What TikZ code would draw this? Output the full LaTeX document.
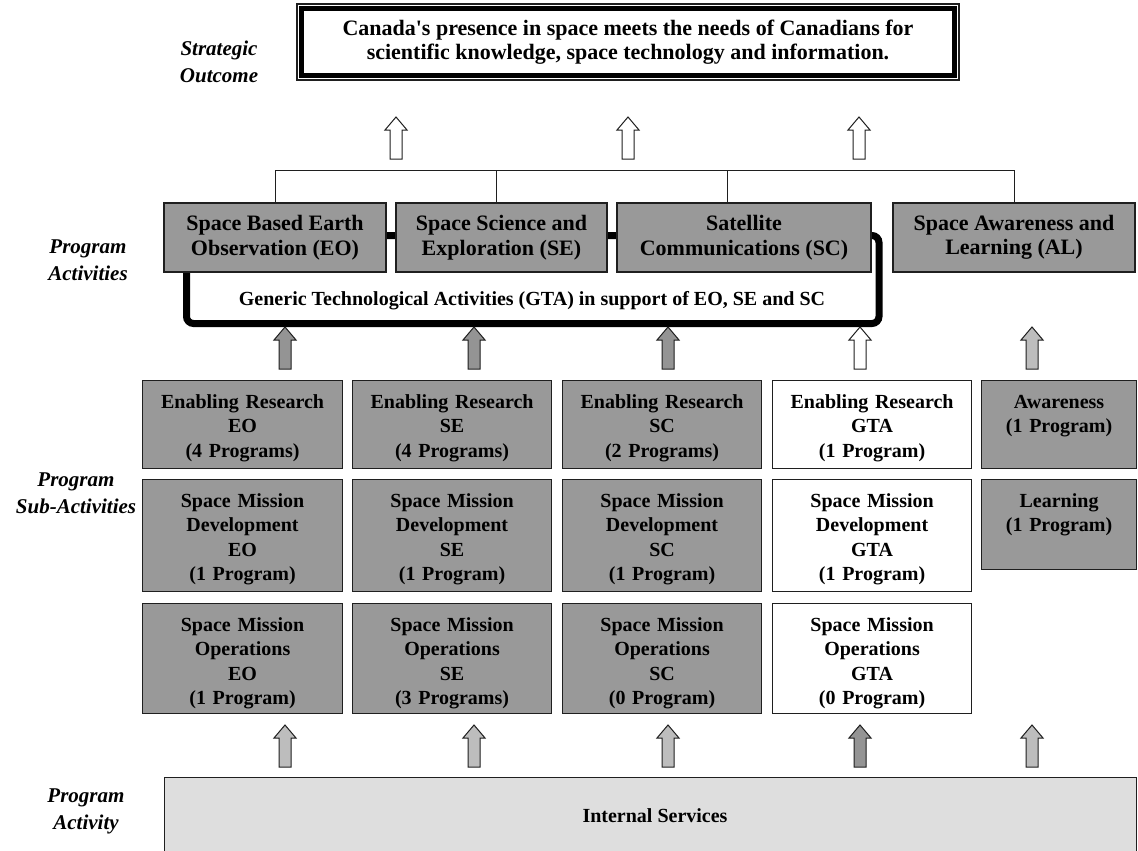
\documentclass[tikz,border=0pt]{standalone}
\usepackage{fontspec}
\setmainfont{Liberation Serif}
\usetikzlibrary{calc}

\definecolor{boxgray}{gray}{0.60}
\definecolor{arrowdark}{gray}{0.58}
\definecolor{arrowlight}{gray}{0.74}
\definecolor{basegray}{gray}{0.87}
\definecolor{edgecol}{gray}{0.12}

% one cell of the sub-activity grid: name, style, left, top, width, height, text
\newcommand{\subcell}[7]{%
  \node[#2, minimum width=#5, minimum height=#6] (#1) at (#3,#4) {};
  \node[celltext] (#1-t) at ($(#1.north)+(0,28)$) {#7};
}

\tikzset{
  pics/blockarrow/.style={code={
    \path[pic actions] (-6,0) -- (-6,-29) -- (-11,-29) -- (0,-42)
      -- (11,-29) -- (6,-29) -- (6,0) -- cycle;}},
}

\begin{document}
\begin{tikzpicture}[x=1pt,y=-1pt,
  every node/.style={font=\fontsize{20}{24.5}\selectfont\bfseries},
  big/.style={font=\fontsize{22}{24.5}\selectfont\bfseries},
  thin edge/.style={draw=edgecol, line width=1.1pt},
  pabox/.style={thin edge, fill=boxgray, align=center, inner sep=0pt, big},
  cell/.style={thin edge, inner sep=0pt, anchor=north west},
  dark/.style={cell, fill=boxgray},
  light/.style={cell, fill=white},
  celltext/.style={anchor=base, align=center, inner sep=0pt, text width=190pt},
  tier/.style={font=\fontsize{21}{27}\selectfont\bfseries\itshape, align=center, inner sep=0pt},
  up/.style={draw=edgecol, line width=1pt},
  bus/.style={draw=edgecol, line width=1pt},
]
\useasboundingbox[fill=white] (0,0) rectangle (1138,851);

% tier labels on the left
\node[tier] (lab-so)  at (219,61.5)  {Strategic\\Outcome};
\node[tier] (lab-pa)  at (88,260)    {Program\\Activities};
\node[tier] (lab-psa) at (76,493.5)  {Program\\Sub-Activities};
\node[tier] (lab-is)  at (86,811.5)  {Program\\Activity};

% strategic outcome with its double frame
\node[draw=edgecol, line width=1.1pt, minimum width=662, minimum height=76, align=center, inner sep=0pt, big]
  (so) at (628,42) {Canada\textquotesingle s presence in space meets the needs of Canadians for\\scientific knowledge, space technology and information.};
\draw[line width=5pt] ([xshift=5.5pt,yshift=-5.5pt]so.north west) rectangle ([xshift=-5.5pt,yshift=5.5pt]so.south east);

% arrows up to the outcome
\pic[up, fill=white] at (396,159) {blockarrow};
\pic[up, fill=white] at (628,159) {blockarrow};
\pic[up, fill=white] at (859,159) {blockarrow};

% GTA frame, partly hidden behind the program activities
\node[draw, line width=7pt, rounded corners=7pt, minimum width=692.5, minimum height=88, inner sep=0pt]
  (gta) at (532.75,279.5) {};
\node (gta-t) at (532,301) {Generic Technological Activities (GTA) in support of EO, SE and SC};

% program activities
\node[pabox, minimum width=222, minimum height=69] (pa-eo) at (275,237.5)  {Space Based Earth\\Observation (EO)};
\node[pabox, minimum width=211, minimum height=69] (pa-se) at (501.5,237.5) {Space Science and\\Exploration (SE)};
\node[pabox, minimum width=254, minimum height=69] (pa-sc) at (744,237.5)  {Satellite\\Communications (SC)};
\node[pabox, minimum width=242, minimum height=69] (pa-al) at (1014,237.5) {Space Awareness and\\Learning (AL)};

% bus joining the program activities
\coordinate (tick-se) at (496,170);
\coordinate (tick-sc) at (727,170);
\draw[bus] (pa-eo.north) |- (pa-al.north |- tick-se) -- (pa-al.north);
\draw[bus] (tick-se) -- (tick-se |- pa-se.north);
\draw[bus] (tick-sc) -- (tick-sc |- pa-sc.north);

% arrows from the sub-activities
\pic[up, fill=arrowdark]  at (285,369)  {blockarrow};
\pic[up, fill=arrowdark]  at (474,369)  {blockarrow};
\pic[up, fill=arrowdark]  at (668,369)  {blockarrow};
\pic[up, fill=white]      at (860,369)  {blockarrow};
\pic[up, fill=arrowlight] at (1032,369) {blockarrow};

% sub-activity grid
\subcell{er-eo}{dark}{142}{380}{200}{88}{Enabling Research\\EO\\(4 Programs)}
\subcell{er-se}{dark}{352}{380}{199}{88}{Enabling Research\\SE\\(4 Programs)}
\subcell{er-sc}{dark}{562}{380}{199}{88}{Enabling Research\\SC\\(2 Programs)}
\subcell{er-gta}{light}{772}{380}{199}{88}{Enabling Research\\GTA\\(1 Program)}
\subcell{aw}{dark}{981}{380}{155}{88}{Awareness\\(1 Program)}

\subcell{md-eo}{dark}{142}{479}{200}{112}{Space Mission\\Development\\EO\\(1 Program)}
\subcell{md-se}{dark}{352}{479}{199}{112}{Space Mission\\Development\\SE\\(1 Program)}
\subcell{md-sc}{dark}{562}{479}{199}{112}{Space Mission\\Development\\SC\\(1 Program)}
\subcell{md-gta}{light}{772}{479}{199}{112}{Space Mission\\Development\\GTA\\(1 Program)}
\subcell{ln}{dark}{981}{479}{155}{90}{Learning\\(1 Program)}

\subcell{mo-eo}{dark}{142}{603}{200}{110}{Space Mission\\Operations\\EO\\(1 Program)}
\subcell{mo-se}{dark}{352}{603}{199}{110}{Space Mission\\Operations\\SE\\(3 Programs)}
\subcell{mo-sc}{dark}{562}{603}{199}{110}{Space Mission\\Operations\\SC\\(0 Program)}
\subcell{mo-gta}{light}{772}{603}{199}{110}{Space Mission\\Operations\\GTA\\(0 Program)}

% arrows from internal services
\pic[up, fill=arrowlight] at (285,767)  {blockarrow};
\pic[up, fill=arrowlight] at (474,767)  {blockarrow};
\pic[up, fill=arrowlight] at (668,767)  {blockarrow};
\pic[up, fill=arrowdark]  at (860,767)  {blockarrow};
\pic[up, fill=arrowlight] at (1032,767) {blockarrow};

% internal services, running off the bottom edge
\node[thin edge, fill=basegray, minimum width=972, minimum height=100, inner sep=0pt, anchor=north west]
  (is) at (164,777) {};
\node (is-t) at (655,816) {Internal Services};
\end{tikzpicture}
\end{document}
